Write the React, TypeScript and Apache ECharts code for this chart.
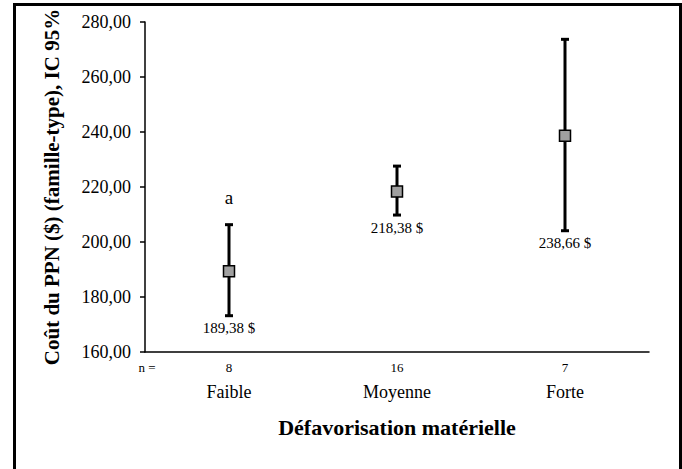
import React, { useEffect, useRef } from "react";
import * as echarts from "echarts";

const categories = ["Faible", "Moyenne", "Forte"];
const nValues = ["8", "16", "7"];
const means = [189.38, 218.38, 238.66];
const lowerCI = [173.2, 209.8, 204.1];
const upperCI = [206.3, 227.6, 273.7];
const letters = ["a", "", ""];
const yMin = 160;
const yMax = 280;
const yStep = 20;

const FONT = "'Liberation Serif', 'Times New Roman', serif";

const fmt = (v: number) => v.toFixed(2).replace(".", ",");

export default function App() {
  const ref = useRef<HTMLDivElement>(null);
  useEffect(() => {
    if (!ref.current) return;
    const chart = echarts.init(ref.current, undefined, { renderer: "svg" });
    const errData = categories.map((_, i) => [i, lowerCI[i], upperCI[i], means[i], i]);
    chart.setOption({
      animation: false,
      textStyle: { fontFamily: FONT, color: "#000" },
      grid: { left: 145, right: 33, top: 22, bottom: 117 },
      graphic: [
        {
          type: "text",
          x: 147,
          y: 367,
          style: {
            text: "n =",
            fontFamily: FONT,
            fontSize: 13,
            fill: "#000",
            align: "center",
            verticalAlign: "middle",
          },
        },
      ],
      xAxis: [
        {
          type: "category",
          data: categories,
          position: "bottom",
          axisLine: { lineStyle: { color: "#000", width: 1.5 } },
          axisTick: { alignWithLabel: true, length: 4, lineStyle: { color: "#000", width: 1.5 } },
          axisLabel: { margin: 31, fontSize: 18, fontFamily: FONT, color: "#000" },
          splitLine: { show: false },
          name: "Défavorisation matérielle",
          nameLocation: "middle",
          nameGap: 64,
          nameTextStyle: { fontSize: 22, fontWeight: "bold", fontFamily: FONT, color: "#000" },
        },
        {
          type: "category",
          data: nValues,
          position: "bottom",
          axisLine: { show: false },
          axisTick: { show: false },
          axisLabel: { margin: 9, fontSize: 13, fontFamily: FONT, color: "#000" },
          splitLine: { show: false },
        },
      ],
      yAxis: {
        type: "value",
        min: yMin,
        max: yMax,
        interval: yStep,
        axisLine: { show: true, lineStyle: { color: "#000", width: 1.5 } },
        axisTick: { show: true, length: 5, lineStyle: { color: "#000", width: 1.5 } },
        axisLabel: {
          margin: 14,
          fontSize: 18,
          fontFamily: FONT,
          color: "#000",
          formatter: (v: number) => fmt(v),
        },
        splitLine: { show: false },
        name: "Coût du PPN ($) (famille-type), IC 95%",
        nameLocation: "middle",
        nameGap: 83,
        nameTextStyle: { fontSize: 21, fontWeight: "bold", fontFamily: FONT, color: "#000" },
      },
      series: [
        {
          type: "custom",
          xAxisIndex: 0,
          data: errData,
          encode: { x: 0, y: [1, 2] },
          z: 2,
          renderItem: (params: any, api: any) => {
            const idx = api.value(0);
            const lo = api.coord([idx, api.value(1)]);
            const hi = api.coord([idx, api.value(2)]);
            const mean = api.value(3);
            const k = api.value(4);
            const cap = 4;
            const lineStyle = { stroke: "#000", lineWidth: 3 };
            const children: any[] = [
              { type: "line", shape: { x1: lo[0], y1: lo[1], x2: hi[0], y2: hi[1] }, style: lineStyle },
              { type: "line", shape: { x1: lo[0] - cap, y1: lo[1], x2: lo[0] + cap, y2: lo[1] }, style: lineStyle },
              { type: "line", shape: { x1: hi[0] - cap, y1: hi[1], x2: hi[0] + cap, y2: hi[1] }, style: lineStyle },
              {
                type: "text",
                x: lo[0],
                y: lo[1] + 5,
                style: {
                  text: fmt(mean) + " $",
                  fontFamily: FONT,
                  fontSize: 15,
                  fill: "#000",
                  align: "center",
                  verticalAlign: "top",
                },
              },
            ];
            const letter = letters[k];
            if (letter) {
              children.push({
                type: "text",
                x: hi[0],
                y: hi[1] - 18,
                style: {
                  text: letter,
                  fontFamily: FONT,
                  fontSize: 19,
                  fill: "#000",
                  align: "center",
                  verticalAlign: "bottom",
                },
              });
            }
            return { type: "group", children };
          },
        },
        {
          type: "scatter",
          xAxisIndex: 0,
          data: categories.map((_, i) => [i, means[i]]),
          symbol: "rect",
          symbolSize: 11,
          z: 3,
          itemStyle: { color: "#a0a0a0", borderColor: "#000", borderWidth: 1.5, opacity: 1 },
        },
      ],
    });
    return () => chart.dispose();
  }, []);
  return (
    <div
      style={{
        position: "fixed",
        left: 0,
        top: 0,
        width: 682,
        height: 469,
        background: "#fff",
        overflow: "hidden",
      }}
    >
      <div
        style={{
          position: "absolute",
          left: 13,
          top: 3,
          width: 663,
          height: 500,
          border: "3px solid #000",
        }}
      />
      <div
        ref={ref}
        style={{ position: "absolute", left: 0, top: 0, width: 682, height: 469 }}
      />
    </div>
  );
}
